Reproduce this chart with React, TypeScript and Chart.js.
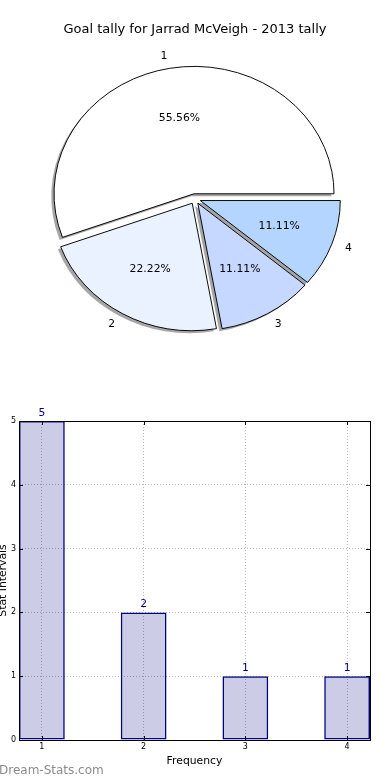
import React, { useEffect, useRef } from 'react';
import { Chart, registerables } from 'chart.js';

Chart.register(...registerables);

// ---------- data ----------
const TITLE = 'Goal tally for Jarrad McVeigh - 2013 tally';
const categories = ['1', '2', '3', '4'];
const tallies = [5, 2, 1, 1];
const sliceColors = ['#ffffff', '#eaf1ff', '#c6d8ff', '#b3d5ff'];
const xTickValues = [1, 2, 3, 4];
const yTickValues = [0, 1, 2, 3, 4, 5];
const X_LABEL = 'Frequency';
const Y_LABEL = 'Stat Intervals';
const WATERMARK = 'Dream-Stats.com';

// ---------- style ----------
const FONT = "'DejaVu Sans', sans-serif";
const BASE = 10.8;
const EXPLODE = 5.6;
const Y_SQUASH = 0.91;
const SHADOW_X = -2.8;
const SHADOW_Y = 2.8;
const PIE_RADIUS = 140;
const W = 390;
const PIE_H = 360;
const BAR_TOP = 360;
const BAR_H = 420;

const total = tallies.reduce((a, b) => a + b, 0);
// matplotlib draws counter-clockwise from 3 o'clock; Chart.js draws clockwise,
// so feed the slices in reverse order starting at 3 o'clock.
const pieOrder = categories.map((_, i) => categories.length - 1 - i);

const piePlugin = {
  id: 'pieStyle',
  beforeDatasetDraw(chart: any, args: any) {
    const meta = chart.getDatasetMeta(args.index);
    const arcs = meta.data as any[];
    if (!arcs.length) return;
    const ctx = chart.ctx as CanvasRenderingContext2D;
    const cx = arcs[0].x;
    const cy = arcs[0].y;
    ctx.save();
    ctx.translate(cx, cy);
    ctx.scale(1, Y_SQUASH);
    ctx.translate(-cx, -cy);
    arcs.forEach((a) => {
      const mid = (a.startAngle + a.endAngle) / 2;
      const ox = cx + EXPLODE * Math.cos(mid) + SHADOW_X;
      const oy = cy + EXPLODE * Math.sin(mid) + SHADOW_Y;
      ctx.beginPath();
      ctx.moveTo(ox, oy);
      ctx.arc(ox, oy, a.outerRadius, a.startAngle, a.endAngle);
      ctx.closePath();
      ctx.fillStyle = 'rgba(77,77,77,0.5)';
      ctx.fill();
    });
    arcs.forEach((a) => {
      const mid = (a.startAngle + a.endAngle) / 2;
      ctx.save();
      ctx.translate(EXPLODE * Math.cos(mid), EXPLODE * Math.sin(mid));
      a.draw(ctx);
      ctx.restore();
    });
    ctx.restore();
    return false;
  },
  afterDatasetsDraw(chart: any) {
    const meta = chart.getDatasetMeta(0);
    const arcs = meta.data as any[];
    if (!arcs.length) return;
    const ctx = chart.ctx as CanvasRenderingContext2D;
    const cx = arcs[0].x;
    const cy = arcs[0].y;
    const sy = (uy: number) => cy + (uy - cy) * Y_SQUASH;
    const values = chart.data.datasets[0].data as number[];
    const labels = chart.data.labels as string[];
    ctx.save();
    ctx.font = `${BASE}px ${FONT}`;
    ctx.fillStyle = '#000';
    ctx.textBaseline = 'middle';
    arcs.forEach((a, j) => {
      const mid = (a.startAngle + a.endAngle) / 2;
      const c = Math.cos(mid);
      const s = Math.sin(mid);
      const ax = cx + EXPLODE * c;
      const ay = cy + EXPLODE * s;
      const R = a.outerRadius;
      ctx.textAlign = c > 0 ? 'left' : 'right';
      ctx.fillText(labels[j], ax + 1.1 * R * c, sy(ay + 1.1 * R * s));
      ctx.textAlign = 'center';
      const pct = ((values[j] / total) * 100).toFixed(2) + '%';
      ctx.fillText(pct, ax + 0.6 * R * c, sy(ay + 0.6 * R * s));
    });
    ctx.restore();
  },
};

const barPlugin = {
  id: 'barStyle',
  afterDatasetsDraw(chart: any) {
    const ctx = chart.ctx as CanvasRenderingContext2D;
    const meta = chart.getDatasetMeta(0);
    ctx.save();
    ctx.font = `${BASE}px ${FONT}`;
    ctx.fillStyle = '#000080';
    ctx.textAlign = 'center';
    ctx.textBaseline = 'alphabetic';
    meta.data.forEach((bar: any, i: number) => {
      ctx.fillText(String(tallies[i]), bar.x, bar.y - 5);
    });
    ctx.restore();
  },
  afterDraw(chart: any) {
    const ctx = chart.ctx as CanvasRenderingContext2D;
    const { left, top, right, bottom } = chart.chartArea;
    const xs = chart.scales.x;
    const ys = chart.scales.y;
    ctx.save();
    ctx.strokeStyle = '#000';
    ctx.lineWidth = 1;
    ctx.beginPath();
    xTickValues.forEach((v) => {
      const px = Math.round(xs.getPixelForValue(v)) + 0.5;
      ctx.moveTo(px, bottom);
      ctx.lineTo(px, bottom - 4);
      ctx.moveTo(px, top);
      ctx.lineTo(px, top + 4);
    });
    yTickValues.forEach((v) => {
      const py = Math.round(ys.getPixelForValue(v)) + 0.5;
      ctx.moveTo(left, py);
      ctx.lineTo(left + 4, py);
      ctx.moveTo(right, py);
      ctx.lineTo(right - 4, py);
    });
    ctx.stroke();
    ctx.strokeRect(left + 0.5, top + 0.5, right - left, bottom - top);
    ctx.restore();
  },
};

export default function App() {
  const pieRef = useRef<HTMLCanvasElement>(null);
  const barRef = useRef<HTMLCanvasElement>(null);

  useEffect(() => {
    document.body.style.margin = '0';
    const pie = new Chart(pieRef.current as HTMLCanvasElement, {
      type: 'pie',
      data: {
        labels: pieOrder.map((i) => categories[i]),
        datasets: [
          {
            data: pieOrder.map((i) => tallies[i]),
            backgroundColor: pieOrder.map((i) => sliceColors[i]),
            borderColor: '#000',
            borderWidth: 1,
            radius: PIE_RADIUS,
          } as any,
        ],
      },
      options: {
        responsive: false,
        animation: false,
        devicePixelRatio: 1,
        rotation: 90,
        layout: { padding: 0 },
        plugins: {
          legend: { display: false },
          tooltip: { enabled: false },
          title: {
            display: true,
            text: TITLE,
            color: '#000',
            font: { family: FONT, size: 13, weight: 'normal' },
            padding: { top: 22, bottom: 0 },
          },
        },
      } as any,
      plugins: [piePlugin],
    });

    const gridColor = 'rgba(0,0,0,0.28)';
    const tickFont = { family: FONT, size: 8 };
    const bar = new Chart(barRef.current as HTMLCanvasElement, {
      type: 'bar',
      data: {
        datasets: [
          {
            data: categories.map((c, i) => ({ x: Number(c), y: tallies[i] })),
            backgroundColor: 'rgba(0,0,128,0.2)',
            borderColor: '#000080',
            borderWidth: 1.5,
            borderSkipped: false,
            categoryPercentage: 1,
            barPercentage: 0.45,
          } as any,
        ],
      },
      options: {
        responsive: false,
        animation: false,
        devicePixelRatio: 1,
        layout: { padding: { top: 61, right: 20, left: 0, bottom: 0 } },
        plugins: {
          legend: { display: false },
          tooltip: { enabled: false },
        },
        scales: {
          x: {
            type: 'linear',
            min: 0.775,
            max: 4.225,
            offset: false,
            afterBuildTicks: (s: any) => {
              s.ticks = xTickValues.map((v) => ({ value: v }));
            },
            afterFit: (s: any) => {
              s.height = 40;
            },
            grid: { color: gridColor, lineWidth: 1, drawTicks: false, offset: false },
            border: { display: false, dash: [1, 2] },
            ticks: { font: tickFont, color: '#000', padding: 2, callback: (v: any) => String(v) },
            title: {
              display: true,
              text: X_LABEL,
              color: '#000',
              font: { family: FONT, size: BASE },
              padding: { top: 0, bottom: 12.4 },
            },
          },
          y: {
            type: 'linear',
            min: 0,
            max: 5,
            afterBuildTicks: (s: any) => {
              s.ticks = yTickValues.map((v) => ({ value: v }));
            },
            afterFit: (s: any) => {
              s.width = 19;
            },
            grid: { color: gridColor, lineWidth: 1, drawTicks: false },
            border: { display: false, dash: [1, 2] },
            ticks: { font: tickFont, color: '#000', padding: 3, callback: (v: any) => String(v) },
            title: {
              display: true,
              text: Y_LABEL,
              color: '#000',
              font: { family: FONT, size: BASE },
              padding: { top: -3.1, bottom: 0 },
            },
          },
        },
      } as any,
      plugins: [barPlugin],
    });

    return () => {
      pie.destroy();
      bar.destroy();
    };
  }, []);

  return (
    <div style={{ position: 'absolute', left: 0, top: 0, width: W, height: 780, background: '#fff' }}>
      <canvas
        ref={pieRef}
        width={W}
        height={PIE_H}
        style={{ position: 'absolute', left: 0, top: 0, width: W, height: PIE_H }}
      />
      <canvas
        ref={barRef}
        width={W}
        height={BAR_H}
        style={{ position: 'absolute', left: 0, top: BAR_TOP, width: W, height: BAR_H }}
      />
      <div
        style={{
          position: 'absolute',
          left: -1,
          top: 763,
          fontFamily: FONT,
          fontSize: 12,
          lineHeight: '14px',
          color: '#8c8c8c',
          whiteSpace: 'nowrap',
        }}
      >
        {WATERMARK}
      </div>
    </div>
  );
}
